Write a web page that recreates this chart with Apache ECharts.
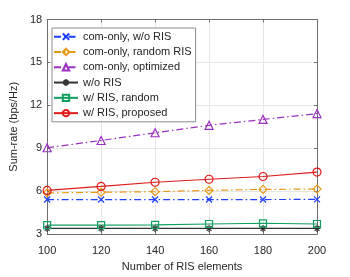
<!DOCTYPE html>
<html><head><meta charset="utf-8">
<script src="https://cdn.jsdelivr.net/npm/echarts@6/dist/echarts.min.js"></script>
<style>html,body{margin:0;padding:0;background:#fff}#c{width:350px;height:277px}</style>
</head><body><div id="c"></div>
<script>
var categories = [100, 120, 140, 160, 180, 200];
var comOnlyNoRIS = [5.41, 5.41, 5.41, 5.41, 5.41, 5.42];
var comOnlyRandom = [5.87, 5.92, 5.96, 6.05, 6.12, 6.14];
var comOnlyOpt = [9.03, 9.54, 10.08, 10.6, 11.01, 11.42];
var noRIS = [3.39, 3.39, 3.39, 3.39, 3.39, 3.39];
var risRandom = [3.62, 3.62, 3.64, 3.70, 3.75, 3.70];
var risProposed = [6.05, 6.33, 6.62, 6.83, 7.02, 7.33];
var yTicks = [3, 6, 9, 12, 15, 18];
var names = ['com-only, w/o RIS','com-only, random RIS','com-only, optimized','w/o RIS','w/ RIS, random','w/ RIS, proposed'];

var X = 'path://M0,0L10,10M10,0L0,10';
var AST = 'path://M5,0L5,10M0,5L10,5M1.5,1.5L8.5,8.5M8.5,1.5L1.5,8.5';
var DD = [7, 3, 1.5, 3];

function mk(name, data, color, symbol, size, ltype) {
  return {
    name: name, type: 'line', data: data.map(function(v,i){return [categories[i], v];}),
    symbol: symbol, symbolSize: size, color: color,
    lineStyle: {color: color, width: 1.2, type: ltype},
    itemStyle: {color: 'rgba(255,255,255,0)', borderColor: color, borderWidth: 1.2},
    z: 3, animation: false
  };
}

var chart = echarts.init(document.getElementById('c'));
var axisCommon = {
  axisLine: {show: true, lineStyle: {color: '#6e6e6e', width: 1}},
  axisTick: {show: true, inside: true, length: 3, lineStyle: {color: '#6e6e6e'}},
  axisLabel: {color: '#262626', fontSize: 11, fontFamily: 'Liberation Sans, Arial'},
  nameTextStyle: {color: '#262626', fontSize: 11, fontFamily: 'Liberation Sans, Arial'}
};
chart.setOption({
  animation: false,
  grid: {left: 45, right: 33, top: 19.5, bottom: 38, show: false},
  xAxis: [
    Object.assign({}, axisCommon, {type: 'value', min: 100, max: 200, interval: 20,
      name: 'Number of RIS elements', nameLocation: 'middle', nameGap: 27,
      axisLabel: Object.assign({}, axisCommon.axisLabel, {margin: 11}),
      splitLine: {show: true, lineStyle: {color: '#e6e6e6', width: 1}}}),
    Object.assign({}, axisCommon, {type: 'value', position: 'top', min: 100, max: 200, interval: 20,
      axisLabel: {show: false}, splitLine: {show: false}})
  ],
  yAxis: [
    Object.assign({}, axisCommon, {type: 'value', min: 3, max: 18, interval: 3,
      name: 'Sum-rate (bps/Hz)', nameLocation: 'middle', nameGap: 25,
      axisLabel: Object.assign({}, axisCommon.axisLabel, {margin: 5}),
      splitLine: {show: true, lineStyle: {color: '#e6e6e6', width: 1}}}),
    Object.assign({}, axisCommon, {type: 'value', position: 'right', min: 3, max: 18, interval: 3,
      axisLabel: {show: false}, splitLine: {show: false}})
  ],
  legend: {
    orient: 'vertical', left: 52, top: 28,
    padding: [2, 4, 2, 1], itemGap: 2, itemWidth: 24, itemHeight: 8,
    backgroundColor: '#fff', borderColor: '#8c8c8c', borderWidth: 1, borderRadius: 0,
    textStyle: {fontSize: 11, color: '#262626', fontFamily: 'Liberation Sans, Arial', lineHeight: 13.3},
    data: names
  },
  series: [
    mk(names[0], comOnlyNoRIS, '#1f3fff', X, 6, DD),
    mk(names[1], comOnlyRandom, '#e69a1a', 'diamond', 8, DD),
    mk(names[2], comOnlyOpt, '#9a2fc0', 'triangle', 8, DD),
    mk(names[3], noRIS, '#333333', AST, 7, 'solid'),
    mk(names[4], risRandom, '#10a060', 'rect', 7, 'solid'),
    mk(names[5], risProposed, '#e01b1b', 'circle', 8, 'solid')
  ]
});
</script></body></html>
